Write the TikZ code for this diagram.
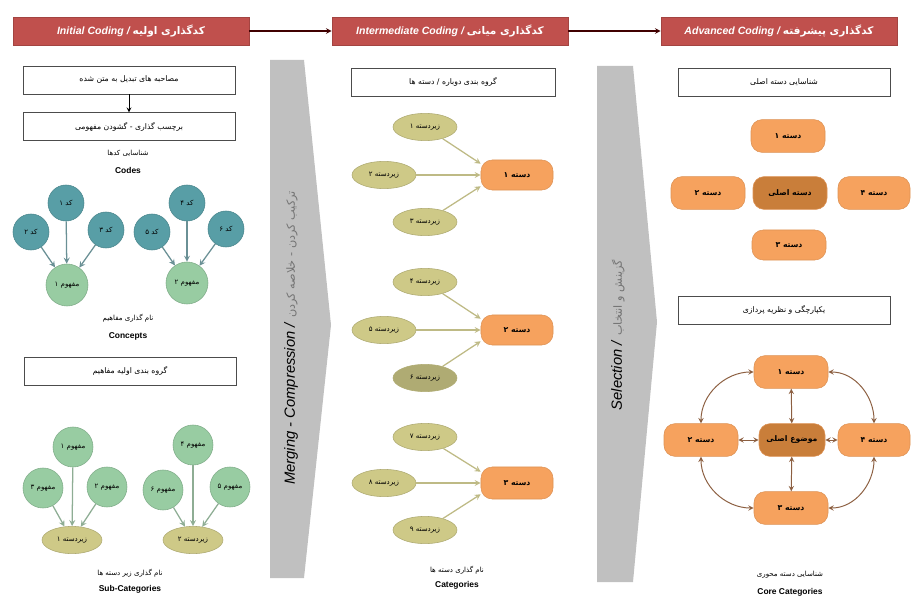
\documentclass[tikz,border=0pt]{standalone}
\usepackage{fontspec}
\setmainfont{Liberation Sans}
\newfontfamily\persianfont[Script=Arabic]{DejaVu Sans}
\TeXXeTstate=1
\newcommand{\fatext}[1]{{\persianfont\upshape\beginR #1\endR}}
\usetikzlibrary{shapes.geometric,positioning}

\definecolor{headred}{RGB}{192,80,77}
\definecolor{codeteal}{RGB}{88,158,166}
\definecolor{conceptgreen}{RGB}{152,204,162}
\definecolor{subolive}{RGB}{206,201,135}
\definecolor{catorange}{RGB}{246,162,94}
\definecolor{coreorange}{RGB}{201,126,58}
\definecolor{shaftgray}{RGB}{192,192,192}
\definecolor{linkbrown}{RGB}{140,95,65}

\tikzstyle{header} = [rectangle, minimum width=5.9cm, minimum height=0.7cm, text centered, draw=headred!85!black, fill=headred, text=white, font=\fontsize{7.5}{9}\selectfont\bfseries\itshape]
\tikzstyle{stagebox} = [rectangle, minimum width=5.3cm, minimum height=0.7cm, text centered, draw=black!70, fill=white, line width=0.6pt, font=\fontsize{5.5}{6}\selectfont]
\tikzstyle{codenode} = [circle, minimum size=0.9cm, inner sep=0pt, draw=codeteal!85!black, fill=codeteal, font=\fontsize{5}{6}\selectfont]
\tikzstyle{concept} = [circle, minimum size=1.05cm, inner sep=0pt, draw=conceptgreen!85!black, fill=conceptgreen, font=\fontsize{5}{6}\selectfont]
\tikzstyle{subcat} = [ellipse, minimum width=1.6cm, minimum height=0.68cm, inner sep=0pt, draw=subolive!85!black, fill=subolive, font=\fontsize{5}{6}\selectfont]
\tikzstyle{category} = [rectangle, rounded corners=8pt, minimum width=1.85cm, minimum height=0.82cm, text centered, draw=catorange!90!black, fill=catorange, font=\fontsize{5.5}{6}\selectfont\bfseries]
\tikzstyle{captionfa} = [font=\fontsize{5}{6}\selectfont]
\tikzstyle{captionen} = [font=\fontsize{6}{7}\selectfont\bfseries]
\tikzstyle{shaft} = [fill=shaftgray]
\tikzstyle{arrow} = [->, >=stealth, draw=black!75!red, line width=0.8pt]
\tikzstyle{codearrow} = [->, >=stealth, draw=codeteal!55!gray, line width=0.9pt]
\tikzstyle{conceptarrow} = [->, >=stealth, draw=conceptgreen!60!gray, line width=0.9pt]
\tikzstyle{subarrow} = [->, >=stealth, draw=subolive!80!gray, line width=0.9pt]
\tikzstyle{link} = [<->, >=stealth, draw=linkbrown, line width=0.7pt]

\begin{document}
\begin{tikzpicture}[x=0.025cm, y=-0.025cm]
		\useasboundingbox (0,0) rectangle (912,603);
		% Headers
		\node (initial) [header] at (131,31) {Initial Coding / \fatext{کدگذاری اولیه}};
		\node (intermediate) [header] at (450,31) {Intermediate Coding / \fatext{کدگذاری میانی}};
		\node (advanced) [header] at (779,31) {Advanced Coding / \fatext{کدگذاری پیشرفته}};
		% Initial coding
		\node (transcripts) [stagebox] at (129,80) {\fatext{مصاحبه های تبدیل به متن شده}};
		\node (labelling) [stagebox, below=0.45cm of transcripts] {\fatext{برچسب گذاری - گشودن مفهومی}};
		\node (codestitle) [captionfa] at (128,153) {\fatext{شناسایی کدها}};
		\node (codes) [captionen] at (128,170) {Codes};
		\node (code1) [codenode] at (66,203) {\fatext{کد ۱}};
		\node (code2) [codenode] at (31,232) {\fatext{کد ۲}};
		\node (code3) [codenode] at (106,230) {\fatext{کد ۳}};
		\node (concept1) [concept] at (67,285) {\fatext{مفهوم ۱}};
		\node (code4) [codenode] at (187,203) {\fatext{کد ۴}};
		\node (code5) [codenode] at (152,232) {\fatext{کد ۵}};
		\node (code6) [codenode] at (226,229) {\fatext{کد ۶}};
		\node (concept2) [concept] at (187,283) {\fatext{مفهوم ۲}};
		\node (conceptstitle) [captionfa] at (128,318) {\fatext{نام گذاری مفاهیم}};
		\node (concepts) [captionen] at (128,336) {Concepts};
		\node (grouping) [stagebox] at (130,371) {\fatext{گروه بندی اولیه مفاهیم}};
		\node (concept3) [concept, minimum size=1cm] at (73,447) {\fatext{مفهوم ۱}};
		\node (concept4) [concept, minimum size=1cm] at (43,488) {\fatext{مفهوم ۳}};
		\node (concept5) [concept, minimum size=1cm] at (107,487) {\fatext{مفهوم ۲}};
		\node (subcatA) [subcat, minimum width=1.5cm] at (72,540) {\fatext{زیردسته ۱}};
		\node (concept6) [concept, minimum size=1cm] at (193,445) {\fatext{مفهوم ۴}};
		\node (concept7) [concept, minimum size=1cm] at (163,490) {\fatext{مفهوم ۶}};
		\node (concept8) [concept, minimum size=1cm] at (230,487) {\fatext{مفهوم ۵}};
		\node (subcatB) [subcat, minimum width=1.5cm] at (193,540) {\fatext{زیردسته ۲}};
		\node (subcatstitle) [captionfa] at (130,573) {\fatext{نام گذاری زیر دسته ها}};
		\node (subcats) [captionen] at (130,589) {Sub-Categories};
		% Merging shaft
		\fill[shaft] (270,60) -- (304,60) -- (331,325) -- (304,578) -- (270,578) -- cycle;
		\node (merging) [rotate=90, font=\fontsize{10.5}{12}\selectfont] at (291,338) {\textit{Merging - Compression /} {\color{black!55}\fontsize{8}{9}\selectfont\fatext{ترکیب کردن - خلاصه کردن}}};
		% Intermediate coding
		\node (regroup) [stagebox, minimum width=5.1cm] at (453,82) {\fatext{گروه بندی دوباره / دسته ها}};
		\node (sub1) [subcat] at (425,127) {\fatext{زیردسته ۱}};
		\node (sub2) [subcat] at (384,175) {\fatext{زیردسته ۲}};
		\node (sub3) [subcat] at (425,222) {\fatext{زیردسته ۳}};
		\node (cat1) [category, minimum width=1.8cm, minimum height=0.75cm] at (517,175) {\fatext{دسته ۱}};
		\node (sub4) [subcat] at (425,282) {\fatext{زیردسته ۴}};
		\node (sub5) [subcat] at (384,330) {\fatext{زیردسته ۵}};
		\node (sub6) [subcat, fill=subolive!85!black] at (425,378) {\fatext{زیردسته ۶}};
		\node (cat2) [category, minimum width=1.8cm, minimum height=0.75cm] at (517,330) {\fatext{دسته ۲}};
		\node (sub7) [subcat] at (425,437) {\fatext{زیردسته ۷}};
		\node (sub8) [subcat] at (384,483) {\fatext{زیردسته ۸}};
		\node (sub9) [subcat] at (425,530) {\fatext{زیردسته ۹}};
		\node (cat3) [category, minimum width=1.8cm, minimum height=0.8cm] at (517,483) {\fatext{دسته ۳}};
		\node (catstitle) [captionfa] at (457,570) {\fatext{نام گذاری دسته ها}};
		\node (cats) [captionen] at (457,585) {Categories};
		% Selection shaft
		\fill[shaft] (597,66) -- (633,66) -- (657,322) -- (633,582) -- (597,582) -- cycle;
		\node (selection) [rotate=90, font=\fontsize{10.5}{12}\selectfont] at (618,335) {\textit{Selection /} {\color{black!55}\fontsize{8}{9}\selectfont\fatext{گزینش و انتخاب}}};
		% Advanced coding
		\node (findcore) [stagebox] at (784,82) {\fatext{شناسایی دسته اصلی}};
		\node (top1) [category] at (788,136) {\fatext{دسته ۱}};
		\node (left1) [category] at (708,193) {\fatext{دسته ۲}};
		\node (core1) [category, fill=coreorange] at (790,193) {\fatext{دسته اصلی}};
		\node (right1) [category, minimum width=1.8cm] at (874,193) {\fatext{دسته ۴}};
		\node (bottom1) [category, minimum height=0.75cm] at (789,245) {\fatext{دسته ۳}};
		\node (integrate) [stagebox] at (784,310) {\fatext{یکپارچگی و نظریه پردازی}};
		\node (top2) [category] at (791,372) {\fatext{دسته ۱}};
		\node (left2) [category] at (701,440) {\fatext{دسته ۲}};
		\node (theme) [category, fill=coreorange, minimum width=1.65cm] at (792,440) {\fatext{موضوع اصلی}};
		\node (right2) [category, minimum width=1.8cm] at (874,440) {\fatext{دسته ۴}};
		\node (bottom2) [category] at (791,508) {\fatext{دسته ۳}};
		\node (coretitle) [captionfa] at (790,575) {\fatext{شناسایی دسته محوری}};
		\node (corecats) [captionen] at (790,592) {Core Categories};
		% Arrows
		\draw [arrow] (initial) -- (intermediate);
		\draw [arrow] (intermediate) -- (advanced);
		\draw [arrow, line width=0.6pt, draw=black] (transcripts) -- (labelling);
		\draw [codearrow] (code1) -- (concept1);
		\draw [codearrow] (code2) -- (concept1);
		\draw [codearrow] (code3) -- (concept1);
		\draw [codearrow] (code4) -- (concept2);
		\draw [codearrow] (code5) -- (concept2);
		\draw [codearrow] (code6) -- (concept2);
		\draw [conceptarrow] (concept3) -- (subcatA);
		\draw [conceptarrow] (concept4) -- (subcatA);
		\draw [conceptarrow] (concept5) -- (subcatA);
		\draw [conceptarrow] (concept6) -- (subcatB);
		\draw [conceptarrow] (concept7) -- (subcatB);
		\draw [conceptarrow] (concept8) -- (subcatB);
		\draw [subarrow] (sub1) -- ([yshift=8pt]cat1.west);
		\draw [subarrow] (sub2) -- (cat1);
		\draw [subarrow] (sub3) -- ([yshift=-8pt]cat1.west);
		\draw [subarrow] (sub4) -- ([yshift=8pt]cat2.west);
		\draw [subarrow] (sub5) -- (cat2);
		\draw [subarrow] (sub6) -- ([yshift=-8pt]cat2.west);
		\draw [subarrow] (sub7) -- ([yshift=8pt]cat3.west);
		\draw [subarrow] (sub8) -- (cat3);
		\draw [subarrow] (sub9) -- ([yshift=-8pt]cat3.west);
		\draw [link] (top2) -- (theme);
		\draw [link] (theme) -- (bottom2);
		\draw [link] (left2) -- (theme);
		\draw [link] (theme) -- (right2);
		\draw [link] (top2.west) to[out=180, in=90] (left2.north);
		\draw [link] (top2.east) to[out=0, in=90] (right2.north);
		\draw [link] (left2.south) to[out=-90, in=180] (bottom2.west);
		\draw [link] (right2.south) to[out=-90, in=0] (bottom2.east);
	\end{tikzpicture}
\end{document}
